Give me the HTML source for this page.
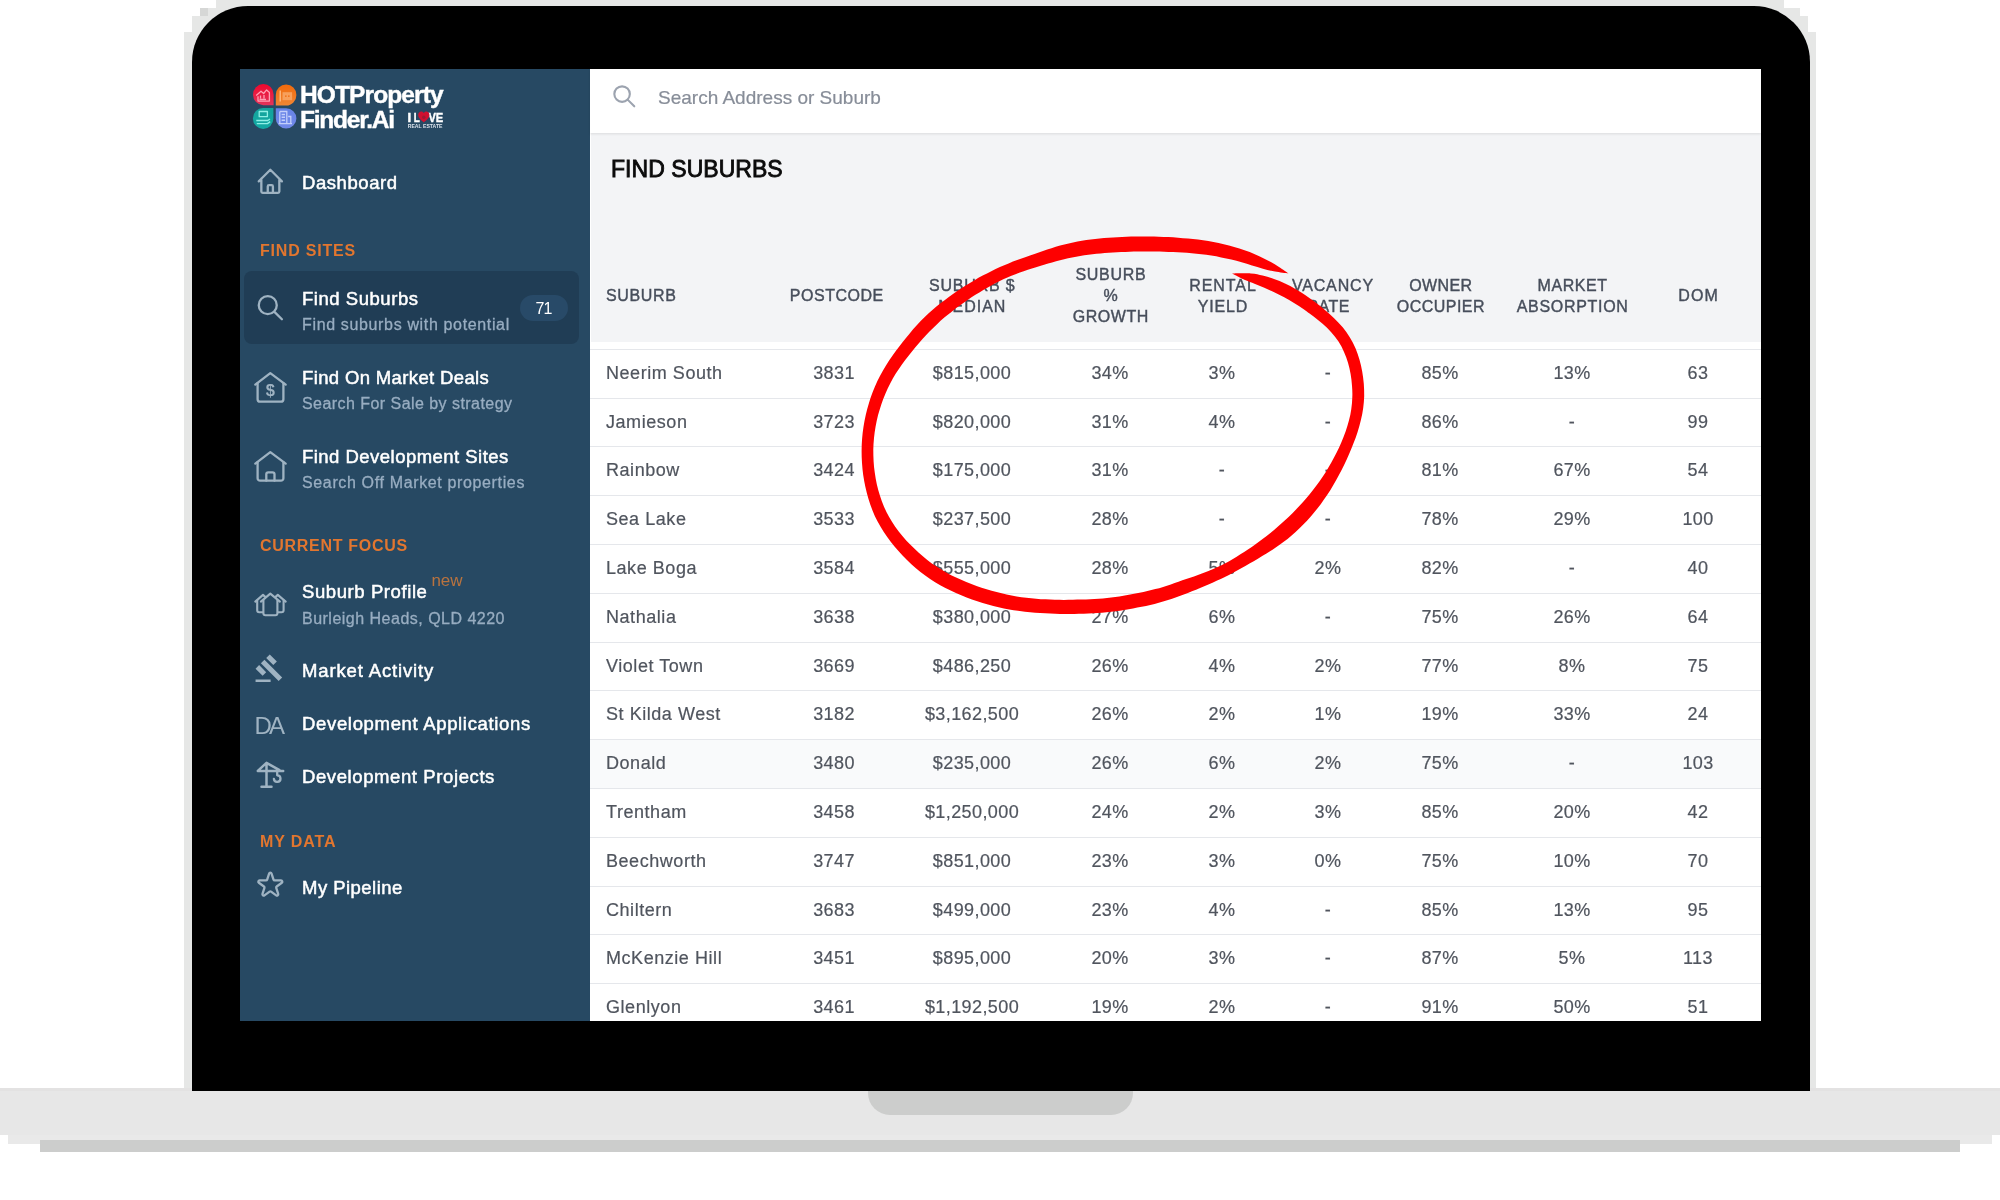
<!DOCTYPE html>
<html><head><meta charset="utf-8"><title>Find Suburbs</title>
<style>
*{box-sizing:border-box;margin:0;padding:0}
html,body{width:2000px;height:1200px;background:#fff;overflow:hidden;font-family:"Liberation Sans",sans-serif}
.abs{position:absolute}
#lid{left:192px;top:5.700px;width:1617.700px;height:1085px;background:#000;border-radius:56px 56px 0 0}
.fr{position:absolute;background:#e6e7e6}
#base{left:0;top:1088px;width:2000px;height:47.400px;background:#e7e7e7;border-top:3px solid #e3e2e2}
#base1{left:8px;top:1135px;width:1984px;height:8.750px;background:#e9e9e9}
#base2{left:40px;top:1140px;width:1920px;height:12px;background:#cccdcc}
#notch{left:868px;top:1091px;width:265px;height:24px;background:#cccdcc;border-radius:0 0 22px 22px}
#screen{left:240px;top:69px;width:1521px;height:952px;background:#fff;overflow:hidden;filter:blur(.35px)}
#side{left:0;top:0;width:350px;height:952px;background:#274963}
#main{left:350px;top:0;width:1171px;height:952px;background:#fff}
#topbar{left:0;top:0;width:1171px;height:64px;background:#fff;box-shadow:0 1px 2.500px rgba(0,0,0,.100);z-index:2}
#hdr{left:1px;top:64px;width:1170px;height:209px;background:#f3f4f6}
.ph{left:68px;top:18px;font-size:19px;color:#878d98;letter-spacing:0;white-space:nowrap;-webkit-text-stroke:.200px #878d98}
.title{left:21px;top:87px;font-size:23px;font-weight:normal;-webkit-text-stroke:.850px #0b0b0b;color:#0b0b0b;white-space:nowrap}
.th{-webkit-text-stroke:.400px #474e5b;position:absolute;transform:translateX(-50%);text-align:center;font-size:16px;line-height:21px;color:#474e5b;letter-spacing:1.2px;white-space:nowrap}
.row{position:absolute;left:350px;width:1171px;height:50px;border-top:1px solid #e5e7eb;font-size:18px;color:#50555e;letter-spacing:.4px;-webkit-text-stroke:.200px #50555e}
.row.hov{background:#f9fafb}
.row span{position:absolute;top:13px;white-space:nowrap;line-height:20px}
.row .c0{left:16px;letter-spacing:.55px}
.row .c{transform:translateX(-50%)}
.nav{-webkit-text-stroke:.500px #fff;position:absolute;left:62px;color:#fff;font-size:18.5px;white-space:nowrap;letter-spacing:.2px}
.sub{-webkit-text-stroke:.300px #98adc1;position:absolute;left:62px;color:#98adc1;font-size:16px;white-space:nowrap;letter-spacing:.3px}
.sec{position:absolute;left:20px;color:#e2762f;font-size:16px;font-weight:bold;letter-spacing:1.2px;white-space:nowrap}
.lg{font-weight:bold;color:#fff;white-space:nowrap;-webkit-text-stroke:.400px #fff}
.ico{position:absolute;fill:none;stroke:#a3b1bd;stroke-width:2;stroke-linecap:round;stroke-linejoin:round}
</style></head><body>
<div class="fr" style="left:216.300px;top:0;width:1567.400px;height:8px"></div>
<div class="fr" style="left:200.300px;top:8px;width:1599.700px;height:8px"></div>
<div class="fr" style="left:192px;top:16px;width:1616px;height:16px"></div>
<div class="fr" style="left:184.300px;top:32px;width:1632px;height:1058px"></div>
<div class="abs" style="left:200.300px;top:8px;width:7.400px;height:8px;background:#d6d7d6"></div>
<div id="base" class="abs"></div>
<div id="base1" class="abs"></div>
<div id="base2" class="abs"></div>
<div id="notch" class="abs"></div>
<div id="lid" class="abs"></div>
<div id="screen" class="abs">
 <div id="main" class="abs">
  <div id="topbar" class="abs">
   <svg class="ico" style="left:20.900px;top:14.200px;stroke:#9ca3af;stroke-width:1.900" width="26.600" height="26.600" viewBox="0 0 24 24"><path d="M21 21l-6-6m2-5a7 7 0 11-14 0 7 7 0 0114 0z"/></svg>
   <div class="abs ph">Search Address or Suburb</div>
  </div>
  <div id="hdr" class="abs"></div>
  <div id="ttl" class="abs title" style="letter-spacing:0.04px">FIND SUBURBS</div>
  <div class="th" style="left:16px;top:216px;transform:none"><span id="f17" style="letter-spacing:0.64px;margin-right:-0.64px">SUBURB</span></div>
  <div class="th" style="left:246.5px;top:216px"><span id="f18" style="letter-spacing:0.50px;margin-right:-0.50px">POSTCODE</span></div>
  <div class="th" style="left:381.8px;top:206px"><span id="f19" style="letter-spacing:0.82px;margin-right:-0.82px">SUBURB $</span><br><span id="f20" style="letter-spacing:1.01px;margin-right:-1.01px">MEDIAN</span></div>
  <div class="th" style="left:520.5px;top:195px"><span id="f21" style="letter-spacing:0.70px;margin-right:-0.70px">SUBURB</span><br><span id="f22" style="letter-spacing:0px;margin-right:-0px">%</span><br><span id="f23" style="letter-spacing:0.55px;margin-right:-0.55px">GROWTH</span></div>
  <div class="th" style="left:632.5px;top:206px"><span id="f24" style="letter-spacing:0.95px;margin-right:-0.95px">RENTAL</span><br><span id="f25" style="letter-spacing:0.86px;margin-right:-0.86px">YIELD</span></div>
  <div class="th" style="left:742.5px;top:206px"><span id="f26" style="letter-spacing:0.84px;margin-right:-0.84px">VACANCY</span><br><span id="f27" style="letter-spacing:0.41px;margin-right:-0.41px;position:relative;left:-4.5px">RATE</span></div>
  <div class="th" style="left:850.7px;top:206px"><span id="f28" style="letter-spacing:0.41px;margin-right:-0.41px">OWNER</span><br><span id="f29" style="letter-spacing:0.46px;margin-right:-0.46px">OCCUPIER</span></div>
  <div class="th" style="left:982.3px;top:206px"><span id="f30" style="letter-spacing:0.56px;margin-right:-0.56px">MARKET</span><br><span id="f31" style="letter-spacing:0.70px;margin-right:-0.70px">ABSORPTION</span></div>
  <div class="th" style="left:1108px;top:216px"><span id="f32" style="letter-spacing:1.06px;margin-right:-1.06px">DOM</span></div>

 </div>
<div class="row" style="top:280px"><span class="c0">Neerim South</span><span class="c" style="left:244px">3831</span><span class="c" style="left:382px">$815,000</span><span class="c" style="left:520px">34%</span><span class="c" style="left:632px">3%</span><span class="c" style="left:738px">-</span><span class="c" style="left:850px">85%</span><span class="c" style="left:982px">13%</span><span class="c" style="left:1108px">63</span></div>
<div class="row" style="top:329px"><span class="c0">Jamieson</span><span class="c" style="left:244px">3723</span><span class="c" style="left:382px">$820,000</span><span class="c" style="left:520px">31%</span><span class="c" style="left:632px">4%</span><span class="c" style="left:738px">-</span><span class="c" style="left:850px">86%</span><span class="c" style="left:982px">-</span><span class="c" style="left:1108px">99</span></div>
<div class="row" style="top:377px"><span class="c0">Rainbow</span><span class="c" style="left:244px">3424</span><span class="c" style="left:382px">$175,000</span><span class="c" style="left:520px">31%</span><span class="c" style="left:632px">-</span><span class="c" style="left:738px">-</span><span class="c" style="left:850px">81%</span><span class="c" style="left:982px">67%</span><span class="c" style="left:1108px">54</span></div>
<div class="row" style="top:426px"><span class="c0">Sea Lake</span><span class="c" style="left:244px">3533</span><span class="c" style="left:382px">$237,500</span><span class="c" style="left:520px">28%</span><span class="c" style="left:632px">-</span><span class="c" style="left:738px">-</span><span class="c" style="left:850px">78%</span><span class="c" style="left:982px">29%</span><span class="c" style="left:1108px">100</span></div>
<div class="row" style="top:475px"><span class="c0">Lake Boga</span><span class="c" style="left:244px">3584</span><span class="c" style="left:382px">$555,000</span><span class="c" style="left:520px">28%</span><span class="c" style="left:632px">5%</span><span class="c" style="left:738px">2%</span><span class="c" style="left:850px">82%</span><span class="c" style="left:982px">-</span><span class="c" style="left:1108px">40</span></div>
<div class="row" style="top:524px"><span class="c0">Nathalia</span><span class="c" style="left:244px">3638</span><span class="c" style="left:382px">$380,000</span><span class="c" style="left:520px">27%</span><span class="c" style="left:632px">6%</span><span class="c" style="left:738px">-</span><span class="c" style="left:850px">75%</span><span class="c" style="left:982px">26%</span><span class="c" style="left:1108px">64</span></div>
<div class="row" style="top:573px"><span class="c0">Violet Town</span><span class="c" style="left:244px">3669</span><span class="c" style="left:382px">$486,250</span><span class="c" style="left:520px">26%</span><span class="c" style="left:632px">4%</span><span class="c" style="left:738px">2%</span><span class="c" style="left:850px">77%</span><span class="c" style="left:982px">8%</span><span class="c" style="left:1108px">75</span></div>
<div class="row" style="top:621px"><span class="c0">St Kilda West</span><span class="c" style="left:244px">3182</span><span class="c" style="left:382px">$3,162,500</span><span class="c" style="left:520px">26%</span><span class="c" style="left:632px">2%</span><span class="c" style="left:738px">1%</span><span class="c" style="left:850px">19%</span><span class="c" style="left:982px">33%</span><span class="c" style="left:1108px">24</span></div>
<div class="row hov" style="top:670px"><span class="c0">Donald</span><span class="c" style="left:244px">3480</span><span class="c" style="left:382px">$235,000</span><span class="c" style="left:520px">26%</span><span class="c" style="left:632px">6%</span><span class="c" style="left:738px">2%</span><span class="c" style="left:850px">75%</span><span class="c" style="left:982px">-</span><span class="c" style="left:1108px">103</span></div>
<div class="row" style="top:719px"><span class="c0">Trentham</span><span class="c" style="left:244px">3458</span><span class="c" style="left:382px">$1,250,000</span><span class="c" style="left:520px">24%</span><span class="c" style="left:632px">2%</span><span class="c" style="left:738px">3%</span><span class="c" style="left:850px">85%</span><span class="c" style="left:982px">20%</span><span class="c" style="left:1108px">42</span></div>
<div class="row" style="top:768px"><span class="c0">Beechworth</span><span class="c" style="left:244px">3747</span><span class="c" style="left:382px">$851,000</span><span class="c" style="left:520px">23%</span><span class="c" style="left:632px">3%</span><span class="c" style="left:738px">0%</span><span class="c" style="left:850px">75%</span><span class="c" style="left:982px">10%</span><span class="c" style="left:1108px">70</span></div>
<div class="row" style="top:817px"><span class="c0">Chiltern</span><span class="c" style="left:244px">3683</span><span class="c" style="left:382px">$499,000</span><span class="c" style="left:520px">23%</span><span class="c" style="left:632px">4%</span><span class="c" style="left:738px">-</span><span class="c" style="left:850px">85%</span><span class="c" style="left:982px">13%</span><span class="c" style="left:1108px">95</span></div>
<div class="row" style="top:865px"><span class="c0">McKenzie Hill</span><span class="c" style="left:244px">3451</span><span class="c" style="left:382px">$895,000</span><span class="c" style="left:520px">20%</span><span class="c" style="left:632px">3%</span><span class="c" style="left:738px">-</span><span class="c" style="left:850px">87%</span><span class="c" style="left:982px">5%</span><span class="c" style="left:1108px">113</span></div>
<div class="row" style="top:914px"><span class="c0">Glenlyon</span><span class="c" style="left:244px">3461</span><span class="c" style="left:382px">$1,192,500</span><span class="c" style="left:520px">19%</span><span class="c" style="left:632px">2%</span><span class="c" style="left:738px">-</span><span class="c" style="left:850px">91%</span><span class="c" style="left:982px">50%</span><span class="c" style="left:1108px">51</span></div>

 <div id="side" class="abs">
  <div class="abs" style="left:4px;top:202px;width:335px;height:73px;background:#203d55;border-radius:8px"></div>
  <!-- logo + icons drawn in absolute page coords via viewBox -->
  <svg class="abs" style="left:0;top:0" width="350" height="952" viewBox="240 69 350 952">
   <defs>
    <linearGradient id="gr" x1="0" y1="0" x2="0" y2="1"><stop offset="0" stop-color="#f0082e"/><stop offset="1" stop-color="#e2345a"/></linearGradient>
    <linearGradient id="go" x1="0" y1="0" x2="0" y2="1"><stop offset="0" stop-color="#f06a0c"/><stop offset="1" stop-color="#f08634"/></linearGradient>
    <linearGradient id="gt" x1="0" y1="0" x2="0" y2="1"><stop offset="0" stop-color="#14a39c"/><stop offset="1" stop-color="#13a9a4"/></linearGradient>
    <linearGradient id="gb" x1="0" y1="0" x2="0" y2="1"><stop offset="0" stop-color="#6683e6"/><stop offset="1" stop-color="#7189ea"/></linearGradient>
   </defs>
   <!-- petals -->
   <path d="M263.3 84.1a10.3 10.3 0 0 1 10.3 10.3V105.2H263.3a10.3 10.55 0 0 1 0-21.1z" fill="url(#gr)"/>
   <path d="M286.1 84.6a10.3 10.3 0 0 1 10.3 10.3 10.3 10.45 0 0 1-10.3 10.6H275.8V94.9a10.3 10.3 0 0 1 10.3-10.3z" fill="url(#go)"/>
   <path d="M263.1 108H273.4V118.6a10.3 10.3 0 0 1-10.3 10.3 10.2 10.45 0 0 1 0-20.9z" fill="url(#gt)"/>
   <path d="M275.8 108.2H286.1a10.3 10.2 0 0 1 0 20.4 10.3 10.2 0 0 1-10.3-10.2z" fill="url(#gb)"/>
   <!-- petal glyphs -->
   <g fill="none" stroke="#ff9fb3" stroke-width="1.3" stroke-linejoin="round">
    <path d="M256.2 95.5l4.8-4.2 2.6 2.2 3-3.6 2.8 2.6v8.6h-11.4V96.2"/><path d="M259.5 99.5h6.5M260.5 95.5v3M264 95v3.5"/>
   </g>
   <g fill="none" stroke="#ffc08a" stroke-width="1.3">
    <path d="M280.2 90.5v11"/><path d="M282.5 92.2h9.6v8h-9.6z" fill="#f7a05c" stroke="none"/><path d="M285 96.2h1.6M288 96.2h1.6" stroke="#f06a0c"/>
   </g>
   <g fill="none" stroke="#8ff0e6" stroke-width="1.3" stroke-linejoin="round">
    <path d="M259.2 111.5h8.2v5.2h-8.2z"/><path d="M256.3 120.5h11.5l2.2-1.5M256.8 123.6h10.6l2.8-2"/>
   </g>
   <g fill="none" stroke="#c3cffb" stroke-width="1.3">
    <path d="M279.8 111.5h7v11.8M279.8 111.5v11.8M278.6 123.6h13.4M288.2 116.5h2.6v6.8"/><path d="M281.6 114.5h3.4M281.6 117.3h3.4M281.6 120.3h3.4" stroke-width="1.5"/>
   </g>
   <!-- I LOVE REAL ESTATE -->
   <g fill="#fff" stroke="#fff" stroke-width=".45" font-family="Liberation Sans, sans-serif" font-weight="bold">
    <text x="407.5" y="121.7" font-size="13">I</text>
    <text x="413.7" y="121.7" font-size="13" textLength="6" lengthAdjust="spacingAndGlyphs">L</text>
    <text x="428.4" y="121.7" font-size="13" textLength="14.8" lengthAdjust="spacingAndGlyphs">VE</text>
    <text x="407.7" y="127.8" font-size="6.2" textLength="34.8" lengthAdjust="spacingAndGlyphs" fill="#dbe3ec" stroke="none">REAL ESTATE</text>
   </g>
   <path d="M423.8 122.4c-1.2-1.3-5.6-4-5.6-7.4 0-2 1.4-3.5 3.1-3.5 1.1 0 2 .6 2.5 1.500.5-.9 1.400-1.500 2.500-1.500 1.700 0 3.100 1.500 3.100 3.500 0 3.400-4.400 6.100-5.600 7.400z" fill="#cf1030"/>
   <circle cx="423.8" cy="117.300" r="1.700" fill="#9c1a33"/>

   <g fill="none" stroke="#9fb3c2" stroke-linecap="round" stroke-linejoin="round">
    <!-- dashboard home (heroicons) -->
    <g transform="translate(254.900 165.900) scale(1.286)" stroke-width="1.800">
     <path d="M3 12l2-2m0 0l7-7 7 7M5 10v10a1 1 0 001 1h3m10-11l2 2m-2-2v10a1 1 0 01-1 1h-3m-6 0a1 1 0 001-1v-4a1 1 0 011-1h2a1 1 0 011 1v4a1 1 0 001 1m-6 0h6"/>
    </g>
    <!-- search -->
    <g transform="translate(254.900 292.300) scale(1.286)" stroke-width="1.800">
     <path d="M21 21l-6-6m2-5a7 7 0 11-14 0 7 7 0 0114 0z"/>
    </g>
    <!-- house $ -->
    <g stroke-width="2.300">
     <path d="M255.300 384.600L270.300 373.200 285.700 384.600"/>
     <path d="M257.600 383.200V399.200a2.500 2.500 0 0 0 2.500 2.500H280.900a2.500 2.500 0 0 0 2.500-2.500V383.200"/>
     <!-- house door -->
     <path d="M255.300 463.600L270.300 452.200 285.700 463.600"/>
     <path d="M257.600 462.200V478.200a2.500 2.500 0 0 0 2.500 2.500H280.900a2.500 2.500 0 0 0 2.500-2.500V462.200"/>
     <path d="M266.300 480.700V474.300a2 2 0 0 1 2-2h4.200a2 2 0 0 1 2 2V480.700"/>
    </g>
    <!-- three houses -->
    <g stroke-width="2.100">
     <path d="M260.900 601.600L270.300 593.600 279.900 601.600"/>
     <path d="M263.400 600V613.200a2 2 0 0 0 2 2H275.400a2 2 0 0 0 2-2V600"/>
     <path d="M255.300 601.600L263 594.900 265.200 596.900"/>
     <path d="M257.200 600.500V610.300a2 2 0 0 0 2 2H263"/>
     <path d="M285.700 601.600L277.800 594.900 275.600 596.900"/>
     <path d="M283.600 600.500V610.300a2 2 0 0 1-2 2H278"/>
    </g>
    <!-- crane -->
    <g stroke-width="2.500">
     <path d="M266.500 763V786.800M261.500 786.800H271.500M257.800 771H283.200M257.800 770.800L266.500 762.800 279.500 770.200"/>
     <path d="M277.200 771.500V775.300a3.300 3.300 0 1 1-3.300 3.600" stroke-width="2.300"/>
    </g>
    <!-- star -->
    <g transform="translate(254.900 869.800) scale(1.286)" stroke-width="1.800">
     <path d="M11.049 2.927c.3-.921 1.603-.921 1.902 0l1.519 4.674a1 1 0 00.95.69h4.915c.969 0 1.371 1.240.588 1.810l-3.976 2.888a1 1 0 00-.363 1.118l1.518 4.674c.3.922-.755 1.688-1.538 1.118l-3.976-2.888a1 1 0 00-1.176 0l-3.976 2.888c-.783.570-1.838-.197-1.538-1.118l1.518-4.674a1 1 0 00-.363-1.118l-3.976-2.888c-.784-.570-.380-1.810.588-1.810h4.914a1 1 0 00.951-.690l1.519-4.674z"/>
    </g>
   </g>
   <!-- gavel (filled) -->
   <g transform="translate(254.300 653.200) scale(1.255)" fill="#9fb3c2">
    <path d="M1 21h12v2H1zM5.245 8.070l2.830-2.827 14.140 14.142-2.828 2.828zM12.317 1l5.657 5.656-2.830 2.830-5.654-5.660zM3.825 9.485l5.657 5.657-2.828 2.828-5.657-5.657z"/>
   </g>
   <text x="270.300" y="395.900" text-anchor="middle" font-family="Liberation Sans, sans-serif" font-weight="bold" font-size="16.500" fill="#9fb3c2">$</text>
   <text x="254.500" y="734" font-family="Liberation Sans, sans-serif" font-size="24" fill="#9fb3c2" textLength="30.600" lengthAdjust="spacing">DA</text>
  </svg>
  <div id="lg1" class="abs lg" style="left:60px;top:14.400px;font-size:24.500px;line-height:24.500px;letter-spacing:-0.88px">HOTProperty</div>
  <div id="lg2" class="abs lg" style="left:60px;top:39px;font-size:24.500px;line-height:24.500px;letter-spacing:-1.23px">Finder.Ai</div>
  <div class="abs" style="left:280px;top:226px;width:48px;height:26px;border-radius:13px;background:#284a68;color:#fff;font-size:16px;letter-spacing:-.8px;text-indent:-.8px;text-align:center;line-height:28.500px">71</div>
  <div class="abs" style="left:191.400px;top:501.600px;color:#b9733f;font-size:17px;white-space:nowrap">new</div>
  <div id="f1" class="nav" style="top:103px;letter-spacing:0.56px">Dashboard</div>
  <div id="f2" class="sec" style="top:173px;letter-spacing:0.80px">FIND SITES</div>
  <div id="f3" class="nav" style="top:219px;letter-spacing:0.54px">Find Suburbs</div>
  <div id="f4" class="sub" style="top:246.5px;letter-spacing:0.65px">Find suburbs with potential</div>
  <div id="f5" class="nav" style="top:298px;letter-spacing:0.36px">Find On Market Deals</div>
  <div id="f6" class="sub" style="top:325.5px;letter-spacing:0.45px">Search For Sale by strategy</div>
  <div id="f7" class="nav" style="top:377px;letter-spacing:0.47px">Find Development Sites</div>
  <div id="f8" class="sub" style="top:404.5px;letter-spacing:0.64px">Search Off Market properties</div>
  <div id="f9" class="sec" style="top:468px;letter-spacing:0.70px">CURRENT FOCUS</div>
  <div id="f10" class="nav" style="top:512px;letter-spacing:0.59px">Suburb Profile</div>
  <div id="f11" class="sub" style="top:540.5px;letter-spacing:0.49px">Burleigh Heads, QLD 4220</div>
  <div id="f12" class="nav" style="top:591px;letter-spacing:0.86px">Market Activity</div>
  <div id="f13" class="nav" style="top:644px;letter-spacing:0.67px">Development Applications</div>
  <div id="f14" class="nav" style="top:697px;letter-spacing:0.60px">Development Projects</div>
  <div id="f15" class="sec" style="top:764px;letter-spacing:0.88px">MY DATA</div>
  <div id="f16" class="nav" style="top:808px;letter-spacing:0.47px">My Pipeline</div>


 </div>
</div>
<svg class="abs" style="left:0;top:0" width="2000" height="1200" viewBox="0 0 2000 1200"><path d="M1232.0 273.5C1235.2 273.5 1245.8 273.1 1250.9 273.5C1256.1 273.8 1258.8 274.7 1262.6 275.6C1266.5 276.5 1270.3 277.6 1274.0 278.9C1277.8 280.2 1281.4 281.7 1285.0 283.4C1288.5 285.0 1292.0 286.9 1295.4 288.9C1298.9 290.8 1302.2 293.0 1305.5 295.2C1308.8 297.4 1312.1 299.7 1315.3 302.2C1318.6 304.6 1321.8 307.2 1324.9 309.9C1328.0 312.5 1331.2 315.3 1334.1 318.2C1337.1 321.1 1340.0 324.1 1342.7 327.3C1345.3 330.5 1347.8 333.9 1349.9 337.4C1352.0 340.8 1353.9 344.5 1355.5 348.2C1357.1 352.0 1358.4 355.9 1359.5 359.8C1360.6 363.7 1361.5 367.6 1362.2 371.6C1362.9 375.6 1363.4 379.7 1363.8 383.7C1364.1 387.8 1364.2 391.8 1364.2 395.9C1364.1 400.0 1363.7 404.0 1363.2 408.1C1362.7 412.1 1361.9 416.1 1360.9 420.1C1360.0 424.1 1358.8 428.0 1357.6 431.9C1356.4 435.7 1355.0 439.5 1353.5 443.3C1352.1 447.0 1350.6 450.7 1349.0 454.3C1347.4 458.0 1345.8 461.5 1344.1 465.0C1342.4 468.5 1340.6 471.9 1338.8 475.3C1337.0 478.7 1335.2 482.0 1333.2 485.2C1331.3 488.5 1329.3 491.7 1327.3 494.8C1325.2 497.9 1323.1 500.9 1320.9 503.9C1318.7 506.8 1316.5 509.7 1314.1 512.5C1311.8 515.3 1309.4 518.0 1307.0 520.7C1304.5 523.3 1302.0 525.9 1299.5 528.3C1296.9 530.8 1294.3 533.2 1291.6 535.4C1288.9 537.7 1286.2 539.9 1283.4 542.0C1280.7 544.1 1277.9 546.1 1275.0 548.0C1272.2 550.0 1269.3 551.8 1266.5 553.6C1263.6 555.3 1260.8 557.0 1257.9 558.7C1255.1 560.3 1252.3 561.9 1249.5 563.5C1246.7 565.1 1244.0 566.7 1241.2 568.2C1238.5 569.7 1235.8 571.3 1233.0 572.7C1230.3 574.2 1227.6 575.6 1224.9 576.9C1222.1 578.3 1219.4 579.6 1216.6 580.8C1213.9 582.1 1211.1 583.3 1208.4 584.5C1205.6 585.6 1202.9 586.8 1200.1 587.9C1197.4 589.0 1194.7 590.1 1191.9 591.2C1189.2 592.3 1186.5 593.4 1183.8 594.4C1181.0 595.5 1178.3 596.5 1175.6 597.5C1172.8 598.5 1170.0 599.5 1167.2 600.3C1164.5 601.2 1161.6 602.1 1158.8 602.8C1156.0 603.6 1153.2 604.3 1150.3 604.9C1147.5 605.6 1144.6 606.2 1141.7 606.8C1138.8 607.4 1135.9 607.9 1133.0 608.5C1130.1 609.0 1127.2 609.5 1124.3 610.0C1121.4 610.4 1118.4 610.9 1115.5 611.2C1112.5 611.6 1109.5 611.9 1106.5 612.2C1103.5 612.5 1100.5 612.8 1097.5 613.0C1094.4 613.2 1091.4 613.4 1088.3 613.5C1085.3 613.6 1082.2 613.7 1079.0 613.8C1075.9 613.9 1072.8 614.0 1069.6 614.0C1066.4 614.0 1063.2 614.0 1060.0 613.9C1056.8 613.9 1053.5 613.8 1050.2 613.6C1046.9 613.5 1043.6 613.3 1040.2 613.1C1036.9 612.8 1033.5 612.6 1030.1 612.2C1026.7 611.9 1023.2 611.5 1019.7 611.0C1016.2 610.6 1012.7 610.1 1009.2 609.5C1005.7 608.8 1002.1 608.1 998.6 607.3C995.1 606.5 991.5 605.6 988.0 604.6C984.4 603.6 980.9 602.5 977.3 601.3C973.7 600.1 970.2 598.9 966.6 597.5C963.0 596.1 959.5 594.7 955.9 593.1C952.4 591.5 948.9 589.8 945.4 588.0C941.9 586.2 938.5 584.3 935.1 582.2C931.8 580.1 928.4 577.9 925.2 575.6C922.0 573.2 918.9 570.8 915.9 568.2C912.8 565.6 909.9 562.9 907.0 560.0C904.1 557.2 901.4 554.3 898.7 551.3C896.0 548.3 893.4 545.2 890.9 542.0C888.4 538.8 886.0 535.4 883.8 532.0C881.6 528.6 879.5 525.1 877.6 521.5C875.7 517.9 874.0 514.2 872.5 510.4C871.0 506.7 869.6 502.8 868.5 498.9C867.3 495.0 866.3 491.1 865.4 487.1C864.5 483.1 863.8 479.1 863.2 475.1C862.7 471.1 862.2 467.0 862.0 463.0C861.7 458.9 861.6 454.9 861.6 450.8C861.6 446.8 861.8 442.7 862.1 438.7C862.4 434.7 862.9 430.7 863.5 426.7C864.1 422.7 864.9 418.7 865.8 414.8C866.7 410.9 867.7 407.1 868.9 403.2C870.0 399.4 871.3 395.7 872.7 392.0C874.2 388.3 875.7 384.6 877.4 381.0C879.1 377.5 881.0 374.0 883.0 370.6C884.9 367.2 887.0 363.9 889.1 360.6C891.3 357.4 893.5 354.2 895.8 351.1C898.1 348.0 900.4 345.0 902.7 342.1C905.0 339.1 907.3 336.2 909.7 333.4C912.1 330.6 914.5 327.8 917.0 325.1C919.4 322.4 921.9 319.8 924.5 317.3C927.1 314.8 929.7 312.4 932.4 310.0C935.0 307.7 937.8 305.4 940.5 303.2C943.2 301.1 946.0 299.0 948.8 296.9C951.6 294.9 954.4 292.9 957.2 291.0C960.0 289.1 962.8 287.3 965.7 285.5C968.5 283.7 971.3 282.0 974.2 280.4C977.0 278.7 979.9 277.1 982.7 275.6C985.6 274.1 988.4 272.6 991.3 271.2C994.2 269.8 997.0 268.4 999.9 267.1C1002.8 265.8 1005.7 264.6 1008.6 263.4C1011.5 262.3 1014.4 261.1 1017.2 260.1C1020.1 259.0 1023.0 257.9 1025.9 256.9C1028.7 255.9 1031.6 254.9 1034.5 253.9C1037.3 252.9 1040.1 251.9 1043.0 251.0C1045.8 250.0 1048.6 249.1 1051.5 248.2C1054.3 247.3 1057.2 246.4 1060.1 245.6C1062.9 244.8 1065.8 244.1 1068.7 243.4C1071.6 242.8 1074.5 242.2 1077.5 241.6C1080.4 241.1 1083.3 240.6 1086.3 240.1C1089.2 239.7 1092.2 239.3 1095.1 239.0C1098.1 238.6 1101.0 238.3 1104.0 238.1C1107.0 237.8 1110.0 237.6 1113.0 237.4C1115.9 237.2 1118.9 237.0 1122.0 236.9C1125.0 236.8 1128.0 236.7 1131.0 236.6C1134.1 236.5 1137.1 236.5 1140.2 236.5C1143.2 236.5 1146.3 236.5 1149.4 236.5C1152.5 236.6 1155.7 236.6 1158.8 236.7C1162.0 236.8 1165.2 237.0 1168.4 237.1C1171.6 237.3 1174.8 237.5 1178.1 237.7C1181.3 238.0 1184.6 238.2 1188.0 238.5C1191.3 238.8 1194.6 239.1 1198.0 239.6C1201.4 240.0 1204.8 240.4 1208.3 241.0C1211.7 241.6 1215.2 242.2 1218.6 242.9C1222.1 243.6 1225.5 244.5 1229.0 245.4C1232.4 246.3 1235.9 247.3 1239.4 248.4C1242.8 249.6 1246.2 250.8 1249.7 252.1C1253.1 253.5 1256.5 254.9 1259.8 256.5C1263.2 258.1 1266.5 259.7 1269.8 261.5C1273.1 263.3 1276.3 265.3 1279.4 267.3C1282.5 269.3 1287.0 272.5 1288.5 273.5C1286.2 273.2 1279.3 272.3 1275.0 271.5C1270.7 270.7 1266.7 269.7 1262.9 268.7C1259.1 267.7 1255.6 266.5 1252.0 265.5C1248.5 264.4 1245.1 263.3 1241.6 262.3C1238.2 261.3 1234.7 260.4 1231.3 259.6C1227.9 258.8 1224.6 258.1 1221.2 257.4C1217.9 256.7 1214.5 256.2 1211.2 255.6C1207.9 255.1 1204.6 254.7 1201.4 254.3C1198.1 253.9 1194.9 253.6 1191.7 253.3C1188.6 253.0 1185.4 252.8 1182.3 252.6C1179.2 252.4 1176.1 252.2 1173.1 252.1C1170.0 251.9 1167.0 251.8 1164.1 251.7C1161.1 251.6 1158.2 251.5 1155.2 251.5C1152.3 251.4 1149.4 251.4 1146.6 251.4C1143.7 251.4 1140.8 251.4 1138.0 251.5C1135.2 251.5 1132.4 251.6 1129.6 251.7C1126.8 251.8 1124.0 251.9 1121.2 252.0C1118.5 252.1 1115.7 252.3 1113.0 252.4C1110.2 252.6 1107.5 252.8 1104.7 253.0C1102.0 253.3 1099.3 253.5 1096.5 253.8C1093.8 254.1 1091.1 254.4 1088.4 254.7C1085.7 255.1 1082.9 255.5 1080.2 255.9C1077.5 256.3 1074.8 256.8 1072.1 257.4C1069.4 257.9 1066.7 258.5 1064.1 259.2C1061.4 259.9 1058.7 260.6 1056.1 261.3C1053.4 262.1 1050.7 262.9 1048.1 263.6C1045.4 264.4 1042.7 265.3 1040.0 266.1C1037.4 266.9 1034.7 267.7 1031.9 268.6C1029.2 269.5 1026.5 270.3 1023.7 271.3C1021.0 272.2 1018.3 273.1 1015.5 274.2C1012.8 275.2 1010.1 276.3 1007.4 277.5C1004.6 278.7 1001.9 279.9 999.3 281.2C996.6 282.6 993.9 283.9 991.3 285.4C988.6 286.8 986.0 288.3 983.3 289.9C980.7 291.5 978.1 293.1 975.4 294.8C972.8 296.4 970.2 298.2 967.6 300.0C965.0 301.8 962.4 303.6 959.8 305.5C957.2 307.4 954.6 309.3 952.0 311.4C949.4 313.4 946.9 315.5 944.3 317.6C941.8 319.8 939.3 322.0 936.8 324.4C934.4 326.7 931.9 329.1 929.5 331.5C927.2 334.0 924.8 336.5 922.5 339.1C920.2 341.7 917.9 344.4 915.6 347.1C913.3 349.9 911.0 352.7 908.8 355.5C906.5 358.4 904.3 361.3 902.1 364.3C899.9 367.4 897.8 370.5 895.8 373.6C893.9 376.8 892.0 380.1 890.2 383.4C888.5 386.8 886.8 390.2 885.4 393.7C883.9 397.2 882.5 400.7 881.3 404.4C880.1 408.0 879.0 411.6 878.0 415.3C877.1 419.1 876.2 422.8 875.6 426.6C874.9 430.4 874.4 434.2 874.0 438.0C873.6 441.9 873.4 445.7 873.3 449.6C873.3 453.5 873.4 457.3 873.6 461.2C873.8 465.1 874.2 468.9 874.8 472.8C875.3 476.6 876.0 480.4 876.8 484.2C877.7 488.0 878.7 491.8 879.9 495.5C881.0 499.2 882.4 502.8 883.9 506.4C885.4 509.9 887.1 513.5 889.0 516.8C890.9 520.2 893.0 523.5 895.2 526.7C897.5 529.9 899.9 533.0 902.4 535.9C904.9 538.9 907.5 541.8 910.2 544.5C912.9 547.3 915.7 550.0 918.5 552.5C921.4 555.1 924.3 557.5 927.3 559.9C930.3 562.2 933.4 564.4 936.5 566.5C939.7 568.6 942.9 570.6 946.2 572.4C949.5 574.2 952.8 575.9 956.1 577.5C959.5 579.1 962.9 580.6 966.3 582.0C969.7 583.4 973.1 584.7 976.5 585.9C979.9 587.1 983.2 588.2 986.6 589.2C990.0 590.3 993.3 591.3 996.6 592.1C1000.0 593.0 1003.3 593.8 1006.6 594.5C1009.9 595.3 1013.3 595.9 1016.6 596.4C1019.8 596.9 1023.1 597.4 1026.4 597.8C1029.6 598.1 1032.9 598.4 1036.1 598.7C1039.3 599.0 1042.4 599.2 1045.5 599.3C1048.7 599.5 1051.8 599.6 1054.8 599.7C1057.9 599.8 1060.9 599.8 1063.9 599.9C1066.9 599.9 1069.9 599.8 1072.9 599.8C1075.8 599.7 1078.7 599.7 1081.6 599.6C1084.5 599.5 1087.4 599.4 1090.2 599.2C1093.0 599.1 1095.9 598.9 1098.7 598.7C1101.5 598.5 1104.3 598.2 1107.0 597.9C1109.8 597.7 1112.5 597.3 1115.3 597.0C1118.0 596.6 1120.7 596.2 1123.4 595.7C1126.1 595.3 1128.8 594.8 1131.5 594.3C1134.2 593.8 1136.8 593.3 1139.5 592.7C1142.1 592.2 1144.8 591.6 1147.4 591.0C1150.1 590.4 1152.7 589.8 1155.3 589.1C1157.9 588.4 1160.5 587.7 1163.1 586.9C1165.7 586.1 1168.2 585.3 1170.8 584.4C1173.4 583.6 1175.9 582.7 1178.5 581.8C1181.1 580.9 1183.6 580.0 1186.2 579.1C1188.8 578.2 1191.4 577.3 1194.0 576.4C1196.6 575.5 1199.2 574.6 1201.9 573.6C1204.5 572.6 1207.2 571.6 1209.8 570.6C1212.4 569.5 1215.0 568.4 1217.6 567.1C1220.2 565.9 1222.8 564.6 1225.4 563.3C1227.9 561.9 1230.4 560.4 1232.9 559.0C1235.4 557.5 1237.9 555.9 1240.4 554.3C1242.9 552.8 1245.4 551.1 1247.9 549.5C1250.5 547.8 1253.0 546.1 1255.5 544.3C1258.0 542.5 1260.5 540.7 1262.9 538.8C1265.4 537.0 1267.9 535.0 1270.4 533.0C1272.8 531.0 1275.3 529.0 1277.7 526.8C1280.1 524.7 1282.6 522.5 1285.0 520.3C1287.4 518.1 1289.8 515.7 1292.2 513.4C1294.6 511.0 1296.9 508.6 1299.3 506.1C1301.6 503.6 1304.0 501.0 1306.3 498.3C1308.5 495.7 1310.8 492.9 1313.0 490.1C1315.2 487.3 1317.3 484.4 1319.4 481.5C1321.5 478.5 1323.5 475.5 1325.5 472.4C1327.5 469.2 1329.4 466.0 1331.2 462.8C1333.0 459.5 1334.8 456.2 1336.5 452.8C1338.2 449.4 1339.8 445.9 1341.3 442.4C1342.8 438.8 1344.3 435.2 1345.6 431.5C1346.8 427.9 1348.0 424.1 1349.0 420.3C1350.0 416.6 1350.8 412.7 1351.3 408.9C1351.9 405.0 1352.2 401.1 1352.3 397.3C1352.5 393.4 1352.3 389.5 1352.0 385.7C1351.7 381.8 1351.3 377.9 1350.6 374.1C1349.9 370.3 1349.1 366.5 1348.0 362.8C1346.9 359.1 1345.6 355.4 1344.0 351.9C1342.5 348.3 1340.6 344.9 1338.5 341.6C1336.3 338.3 1333.8 335.2 1331.2 332.2C1328.5 329.2 1325.6 326.4 1322.6 323.8C1319.6 321.1 1316.4 318.6 1313.3 316.2C1310.1 313.8 1306.9 311.5 1303.7 309.2C1300.5 307.0 1297.3 304.9 1294.0 302.9C1290.8 300.9 1287.5 299.0 1284.2 297.3C1280.9 295.5 1277.5 293.8 1274.2 292.3C1270.9 290.7 1267.5 289.2 1264.3 287.8C1261.0 286.4 1257.8 285.0 1254.5 283.7C1251.3 282.4 1248.8 281.7 1245.0 280.0C1241.2 278.3 1234.2 274.6 1232.0 273.5Z" fill="#fe0000"/></svg>
</body></html>
